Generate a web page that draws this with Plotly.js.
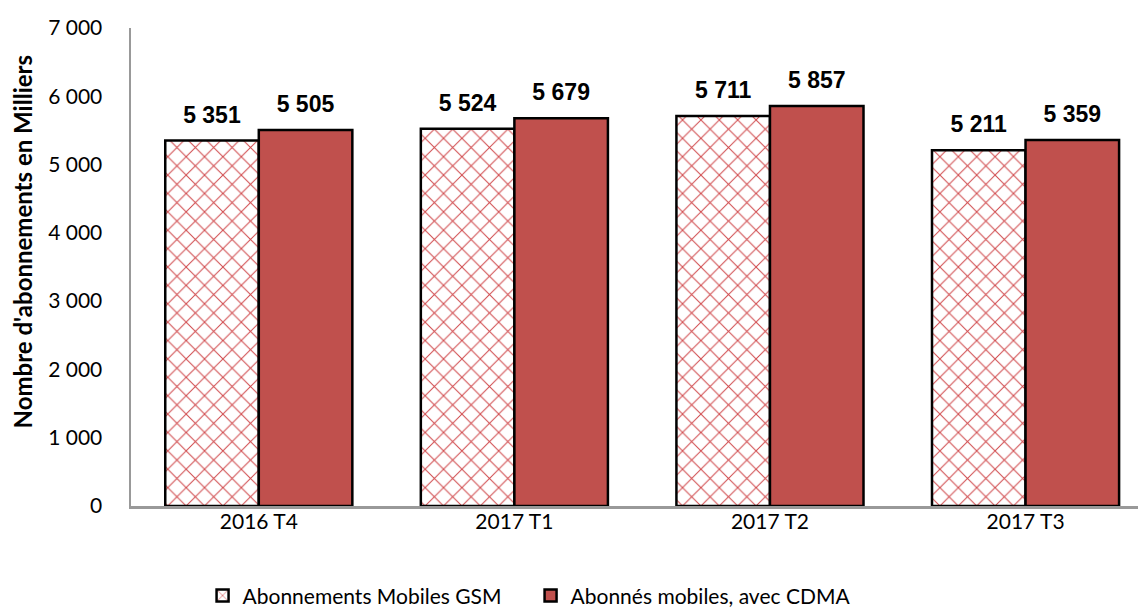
<!DOCTYPE html>
<html><head><meta charset="utf-8">
<script src="https://cdn.plot.ly/plotly-3.0.1.min.js"></script>
<style>html,body{margin:0;padding:0;background:#fff}</style>
</head><body>
<div id="chart" style="width:1138px;height:608px"></div>
<script>
const categories = ["2016 T4", "2017 T1", "2017 T2", "2017 T3"];
const gsmValues = [5351, 5524, 5711, 5211];
const cdmaValues = [5505, 5679, 5857, 5359];
const seriesNames = ["Abonnements Mobiles GSM", "Abonnés mobiles, avec CDMA"];
const yTicks = [0, 1000, 2000, 3000, 4000, 5000, 6000, 7000];
const yTitle = "Nombre d'abonnements en Milliers";

const font = "Lato, 'Open Sans', sans-serif";
const labelFont = "'Liberation Sans Narrow', 'Arial Narrow', 'Liberation Sans', sans-serif";
const labelTemplate = "<span style='font-size:23px'><b>%{y:,.0f}</b></span><br>\u00a0";
const traces = [
  {
    type: "bar", name: seriesNames[0], x: categories, y: gsmValues,
    texttemplate: labelTemplate, textposition: "outside",
    textfont: {family: labelFont, size: 10, color: "#000"}, cliponaxis: false,
    marker: {color: "#ffffff", line: {color: "#000", width: 2.5},
      pattern: {shape: "x", fgcolor: "#d0484b", bgcolor: "#ffffff", size: 13, solidity: 0.15}}
  },
  {
    type: "bar", name: seriesNames[1], x: categories, y: cdmaValues,
    texttemplate: labelTemplate, textposition: "outside",
    textfont: {family: labelFont, size: 10, color: "#000"}, cliponaxis: false,
    marker: {color: "#c0504d", line: {color: "#000", width: 2.5}}
  }
];
const layout = {
  width: 1138, height: 608,
  separators: ", ",
  margin: {l: 131, r: 0, t: 28, b: 102},
  paper_bgcolor: "#fff", plot_bgcolor: "#fff",
  font: {family: font, size: 21, color: "#000"},
  barmode: "group", bargap: 0.268, bargroupgap: 0,
  showlegend: true,
  legend: {orientation: "h", xref: "container", yref: "container", x: 0.178, xanchor: "left",
    y: 0.02, yanchor: "middle", font: {family: font, size: 21}, traceorder: "normal",
    itemwidth: 30, entrywidth: 283, entrywidthmode: "pixels"},
  xaxis: {range: [-0.5, 3.44], showline: true, linecolor: "#999", linewidth: 2.5, ticks: "", showgrid: false,
    tickfont: {family: font, size: 21}, zeroline: false, ticklabelstandoff: -5},
  yaxis: {range: [0, 7000], tickvals: yTicks, tickformat: ",.0f", showline: true,
    linecolor: "#999", linewidth: 2.5, showgrid: false, zeroline: false, ticks: "",
    ticklabelstandoff: 22, tickfont: {family: font, size: 21}},
  annotations: [{text: "<b>" + yTitle + "</b>", textangle: -90, xref: "paper", yref: "paper",
    x: -0.108, y: 0.552, xanchor: "center", yanchor: "middle", showarrow: false,
    font: {family: font, size: 24, color: "#000"}}]
};
Plotly.newPlot("chart", traces, layout, {displayModeBar: false, staticPlot: true});
</script>
</body></html>
